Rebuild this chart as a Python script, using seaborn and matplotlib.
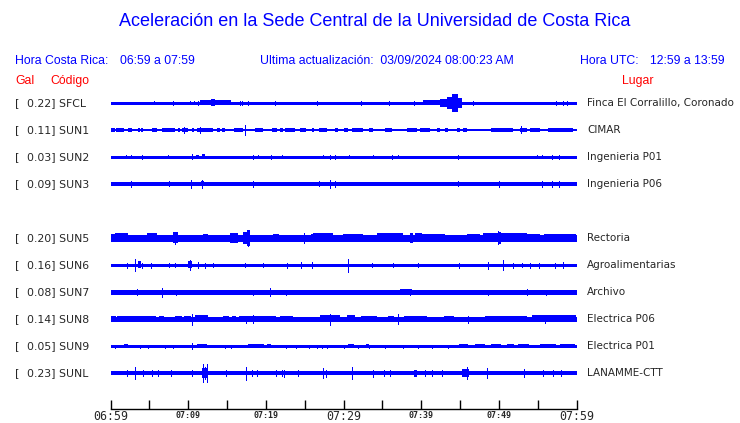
import matplotlib
matplotlib.use("Agg")
import matplotlib.pyplot as plt
import seaborn as sns

# --- data -------------------------------------------------------------
# minutes after 06:59 local time; amplitudes are half-heights of the trace
codes = ["SFCL", "SUN1", "SUN2", "SUN3", None, "SUN5", "SUN6", "SUN7", "SUN8", "SUN9", "SUNL"]
gal = [0.22, 0.11, 0.03, 0.09, None, 0.20, 0.16, 0.08, 0.14, 0.05, 0.23]
places = ["Finca El Corralillo, Coronado", "CIMAR", "Ingenieria P01", "Ingenieria P06", None,
          "Rectoria", "Agroalimentarias", "Archivo", "Electrica P06", "Electrica P01", "LANAMME-CTT"]
base_amp = [0.6, 1.0, 0.6, 1.8, None, 2.7, 1.5, 1.6, 1.7, 0.7, 1.8]

# (start, end, amplitude)
bursts = {
    "SFCL": [(11.5, 15.5, 2.5), (13.0, 13.4, 3.5), (40.2, 42.4, 2.5), (42.4, 43.3, 4.0),
             (43.3, 44.0, 6.0), (44.0, 44.8, 9.0), (44.8, 45.2, 5.0)],
    "SUN1": [(0.0, 0.6, 2), (0.7, 1.7, 2), (2.3, 2.8, 2), (3.5, 3.8, 2), (3.9, 4.2, 2),
             (5.3, 6.0, 2), (6.6, 8.3, 2), (8.7, 9.0, 2), (9.2, 10.0, 2), (10.5, 10.8, 2),
             (11.1, 13.2, 2), (13.7, 14.1, 2), (14.4, 14.7, 2), (15.9, 17.1, 2),
             (18.6, 19.6, 2), (20.8, 21.4, 2), (21.8, 22.2, 2), (22.5, 23.8, 2),
             (24.4, 25.2, 2), (25.9, 26.2, 2), (26.9, 27.9, 2), (28.9, 29.3, 2),
             (30.1, 30.6, 2), (31.1, 32.5, 2), (33.3, 33.8, 2), (35.3, 36.2, 2),
             (38.2, 39.5, 2), (39.9, 41.1, 2), (42.0, 42.4, 2), (43.1, 43.5, 2),
             (44.6, 45.0, 2), (45.4, 45.9, 2), (49.0, 51.8, 2), (52.7, 53.6, 2),
             (54.0, 55.3, 2), (56.3, 59.5, 2)],
    "SUN2": [(11.0, 11.4, 2.0), (11.8, 12.2, 2.5)],
    "SUN3": [(11.6, 12.0, 2.5)],
    "SUN5": [(0.0, 1.3, 4), (0.6, 2.2, 4.5), (4.7, 6.0, 4.5), (8.0, 8.7, 5.5), (11.9, 12.5, 4),
             (15.4, 16.4, 5), (17.1, 18.0, 6), (17.6, 17.9, 8), (20.9, 21.7, 4), (25.8, 26.4, 4),
             (26.1, 28.7, 4.5), (29.9, 32.5, 3.5), (34.3, 37.6, 4.5), (38.5, 39.0, 5),
             (39.2, 40.1, 4.5), (40.1, 43.1, 3.5), (45.9, 47.6, 4), (48.0, 53.6, 4.5),
             (49.9, 50.3, 6), (53.6, 55.3, 4), (55.8, 59.9, 3.5)],
    "SUN6": [(10.0, 10.5, 3.5), (3.5, 3.9, 3.5)],
    "SUN7": [(37.3, 38.8, 2.5), (56.5, 59.5, 2.0)],
    "SUN8": [(0.0, 0.7, 3), (0.9, 1.5, 3), (1.0, 5.8, 3), (6.2, 6.9, 3), (8.3, 9.2, 3),
             (9.5, 10.4, 3), (10.9, 12.5, 3.5), (14.5, 15.2, 3), (15.7, 16.2, 3),
             (16.6, 21.3, 3), (21.8, 23.5, 3), (27.0, 29.5, 3.5), (30.5, 31.5, 3.5),
             (32.2, 34.3, 3), (35.7, 36.5, 3), (37.8, 40.8, 3), (43.0, 44.2, 3),
             (48.2, 53.6, 3), (54.3, 59.9, 3.5)],
    "SUN9": [(1.7, 2.3, 1.5), (11.1, 12.4, 2.0), (17.7, 19.7, 1.5), (20.1, 20.7, 1.5),
             (30.6, 31.3, 1.5), (32.9, 33.3, 1.5), (44.9, 46.0, 1.5), (46.9, 48.2, 1.5),
             (49.0, 50.3, 1.5), (51.0, 51.9, 1.5), (52.5, 53.9, 1.5), (55.3, 57.3, 1.5),
             (57.9, 59.8, 1.5)],
    "SUNL": [(11.8, 12.5, 5.0), (39.1, 39.5, 3.5), (45.3, 46.1, 4.5)],
}

# (time, amplitude)
spikes = {
    "SFCL": [(5.6, 1.5), (8.0, 2), (10.2, 1.5), (10.8, 1.5), (11.3, 2), (16.7, 2), (16.9, 2),
             (17.7, 2), (21.2, 2), (25.7, 1), (26.6, 2), (28.5, 1), (32.3, 2), (35.9, 2),
             (39.1, 2), (46.7, 2), (57.4, 2), (58.3, 2), (58.8, 2)],
    "SUN1": [(9.5, 3), (11.5, 3), (17.3, 5), (52.8, 3.5)],
    "SUN2": [(2.0, 1.5), (2.6, 1.5), (4.0, 2), (7.4, 1.5), (10.5, 2.5), (18.3, 2), (19.0, 1.5),
             (20.7, 2), (22.1, 1.5), (27.4, 1.5), (28.3, 2), (28.9, 2), (30.7, 1.5), (33.8, 1.5),
             (36.2, 2), (37.0, 1.5), (44.7, 2), (54.9, 1.5), (55.5, 1.5), (56.9, 2), (57.7, 2)],
    "SUN3": [(2.6, 3), (7.5, 2.5), (10.4, 4), (11.8, 4), (18.3, 3), (26.8, 2.5), (28.3, 4),
             (28.9, 3), (44.7, 2.5), (50.0, 3), (55.5, 3), (56.9, 3), (57.7, 3)],
    "SUN5": [(8.3, 6), (17.7, 8), (49.9, 6.5), (24.9, 5)],
    "SUN6": [(2.1, 2.5), (3.1, 6), (4.1, 2.5), (5.2, 2.5), (7.5, 2), (8.3, 2), (10.3, 5),
             (11.3, 3), (12.2, 2.5), (13.2, 2), (17.3, 2), (19.6, 2), (22.7, 2.5), (24.5, 3),
             (25.9, 3), (30.6, 6.5), (33.7, 2), (36.4, 2), (39.6, 2), (44.9, 2.5), (48.6, 3.5),
             (50.5, 5.5), (51.8, 2.5), (53.0, 2), (54.0, 2.5), (55.2, 2.5), (57.2, 2.5), (58.2, 3)],
    "SUN7": [(3.4, 3), (6.6, 4.5), (8.4, 2.5), (18.3, 2.5), (20.6, 4), (22.6, 2.5), (24.9, 2),
             (36.0, 2), (38.6, 3), (42.8, 2), (48.6, 2.5), (49.8, 2), (53.6, 3), (56.1, 2.5)],
    "SUN8": [(10.5, 5.5), (18.3, 4), (28.3, 5.5), (37.0, 5), (17.5, 3.5), (46.0, 3.5), (56.0, 4)],
    "SUN9": [(0.6, 1.5), (3.8, 1.5), (4.8, 1.5), (7.0, 1.5), (8.0, 1.5), (10.5, 2.5),
             (14.7, 1.5), (15.5, 1.5), (22.6, 1.5), (23.9, 1.5), (25.5, 1.5), (26.6, 1.5),
             (27.2, 1.5), (27.9, 1.5), (30.0, 1.5), (31.9, 1.5), (33.3, 1.5), (35.4, 1.5),
             (37.6, 1.5), (39.6, 1.5), (41.4, 1.5), (43.5, 1.5)],
    "SUNL": [(2.1, 3), (3.2, 6), (4.2, 3), (5.3, 3), (6.1, 2.5), (7.8, 2.5), (10.5, 3),
             (11.9, 9), (12.2, 6), (12.4, 9), (14.9, 3), (17.4, 6.5), (18.2, 2.5), (18.9, 3),
             (21.3, 3), (22.1, 3), (22.3, 3.5), (24.1, 3), (27.4, 5), (27.7, 3.5), (31.1, 5.5),
             (33.8, 3.5), (35.2, 2.5), (36.0, 2.5), (40.5, 2.5), (41.4, 2.5), (42.7, 2.5),
             (45.9, 5.5), (48.5, 5), (53.2, 4.5), (55.7, 2.5), (57.0, 2.5), (58.0, 2.5)],
}

tick_minutes = list(range(0, 61, 5))
tick_labels = ["06:59", "", "07:09", "", "07:19", "", "07:29", "", "07:39", "", "07:49", "", "07:59"]
big_labels = ["06:59", "07:29", "07:59"]

# --- figure -------------------------------------------------------------
sns.set_style("white")
plt.rcParams["font.family"] = ["DejaVu Sans"]

W, H = 740, 423
fig = plt.figure(figsize=(W / 100, H / 100), dpi=100)
ax = fig.add_axes([110.5 / W, 1 - 408.5 / H, 466 / W, 318.5 / H])

BLUE = "#0000ff"
PX = 0.72                # points per pixel at 100 dpi
row_px = 27.0
k = 1 / row_px           # amplitude units -> row spacing

for row, code in enumerate(codes):
    if code is None:
        continue
    b = base_amp[row]
    ax.plot([0, 60], [row, row], color=BLUE, lw=max(2 * b, 1) * PX,
            solid_capstyle="butt", antialiased=False)
    for t0, t1, a in bursts.get(code, []):
        ax.fill_between([t0, t1], row - a * k, row + a * k, color=BLUE, lw=0,
                        antialiased=False)
    for t, a in spikes.get(code, []):
        ax.vlines(t, row - a * k, row + a * k, color=BLUE, lw=PX, antialiased=False)

ax.set_xlim(0, 60)
ax.set_ylim((408.5 - 103) / row_px, (90 - 103) / row_px)
ax.set_yticks([])
sns.despine(ax=ax, left=True, top=True, right=True)
ax.spines["bottom"].set_color("black")
ax.spines["bottom"].set_linewidth(1.0)
ax.set_xticks(tick_minutes)
ax.set_xticklabels(tick_labels)
ax.tick_params(axis="x", direction="in", length=6.5, width=1, color="black", pad=0.8,
               bottom=True)
for lab in ax.get_xticklabels():
    lab.set_fontfamily("DejaVu Sans Mono")
    if lab.get_text() in big_labels:
        lab.set_fontsize(8.4)
    else:
        lab.set_fontweight("bold")
        lab.set_fontsize(6.0)
        lab.set_y(-0.003)

# station labels
for row, code in enumerate(codes):
    if code is None:
        continue
    y = 1 - (103 + 27 * row) / H
    fig.text(15 / W, y, "[", fontsize=8, va="center", ha="left")
    fig.text(27 / W, y, f"{gal[row]:.2f}] {code}", fontsize=7.8, va="center", ha="left")
    fig.text(587 / W, y, places[row], fontsize=7.5, va="center", ha="left")

# header
hdr = dict(family=["Liberation Sans", "DejaVu Sans"], color=BLUE, va="center")
fig.text(375 / W, 1 - 22 / H, "Aceleración en la Sede Central de la Universidad de Costa Rica",
         fontsize=13.0, ha="center", **hdr)
fig.text(15 / W, 1 - 60.5 / H, "Hora Costa Rica:", fontsize=8.8, ha="left", **hdr)
fig.text(120 / W, 1 - 60.5 / H, "06:59 a 07:59", fontsize=8.8, ha="left", **hdr)
fig.text(260 / W, 1 - 60.5 / H, "Ultima actualización:  03/09/2024 08:00:23 AM",
         fontsize=8.8, ha="left", **hdr)
fig.text(580 / W, 1 - 60.5 / H, "Hora UTC:", fontsize=8.8, ha="left", **hdr)
fig.text(725 / W, 1 - 60.5 / H, "12:59 a 13:59", fontsize=8.8, ha="right", **hdr)

red = dict(family=["Liberation Sans", "DejaVu Sans"], color="#ff0000", va="center",
           fontsize=8.8)
fig.text(15 / W, 1 - 81 / H, "Gal", ha="left", **red)
fig.text(50 / W, 1 - 81 / H, "Código", ha="left", **red)
fig.text(622 / W, 1 - 81 / H, "Lugar", ha="left", **red)

fig.savefig("out.png", dpi=100)
